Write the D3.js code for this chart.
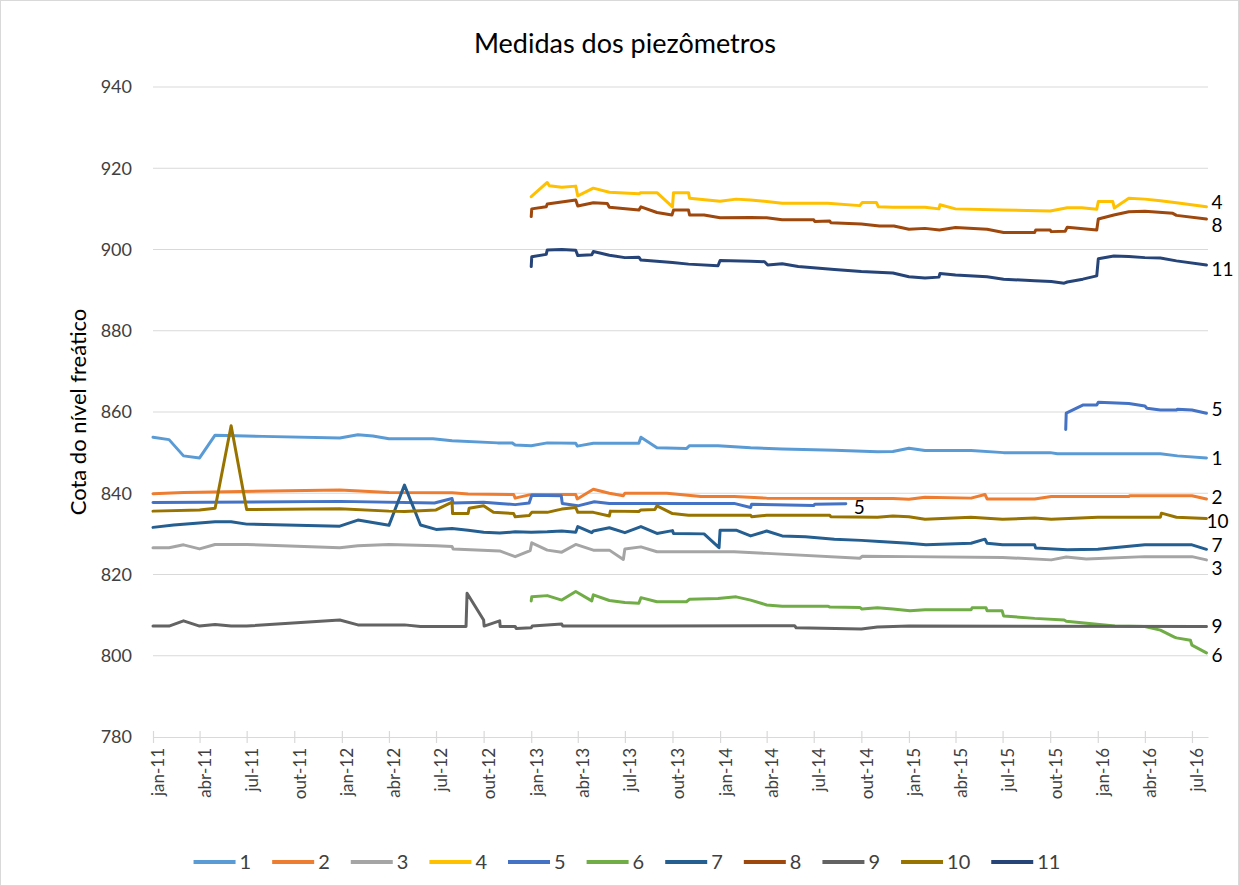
<!DOCTYPE html>
<html>
<head>
<meta charset="utf-8">
<script src="https://cdn.jsdelivr.net/npm/d3@7"></script>
<style>
  html, body { margin: 0; padding: 0; background: #fff; }
  svg { display: block; font-family: Lato, "Open Sans", sans-serif; }
</style>
</head>
<body>
<svg id="chart" width="1239" height="886"></svg>
<script>
// Piezometer water-table readings (cota do nível freático), date + value
const p1 = [["2011-01-01",853.8],["2011-02-01",853.2],["2011-03-01",849.2],["2011-04-01",848.7],["2011-05-01",854.3],["2011-08-01",854.0],["2011-12-28",853.6],["2012-02-01",854.4],["2012-03-01",854.1],["2012-04-01",853.4],["2012-06-25",853.4],["2012-08-01",852.9],["2012-10-28",852.4],["2012-11-25",852.4],["2012-12-01",851.9],["2013-01-01",851.7],["2013-02-01",852.4],["2013-03-28",852.3],["2013-03-31",851.6],["2013-05-01",852.3],["2013-07-28",852.3],["2013-08-01",853.8],["2013-09-01",851.2],["2013-10-28",851.0],["2013-11-03",851.7],["2013-12-28",851.7],["2014-03-01",851.2],["2014-05-01",850.9],["2014-08-10",850.6],["2014-11-01",850.2],["2014-12-01",850.3],["2015-01-01",851.1],["2015-02-01",850.5],["2015-05-01",850.5],["2015-07-03",850.0],["2015-10-01",850.0],["2015-10-15",849.7],["2016-05-01",849.7],["2016-06-03",849.2],["2016-07-29",848.7]];
const p2 = [["2011-01-01",839.9],["2011-03-01",840.2],["2011-12-28",840.8],["2012-04-01",840.2],["2012-08-01",840.1],["2012-09-01",839.8],["2012-11-28",839.7],["2012-12-01",838.8],["2012-12-28",839.6],["2013-01-03",839.7],["2013-03-28",839.7],["2013-03-31",838.6],["2013-05-01",841.0],["2013-06-01",840.0],["2013-06-28",839.4],["2013-07-01",840.0],["2013-09-20",840.0],["2013-11-25",839.2],["2014-01-28",839.2],["2014-04-01",838.8],["2014-12-01",838.7],["2015-01-01",838.5],["2015-02-01",839.0],["2015-05-01",838.8],["2015-05-28",839.7],["2015-06-01",838.6],["2015-09-01",838.6],["2015-10-03",839.2],["2016-03-01",839.2],["2016-03-03",839.4],["2016-07-01",839.4],["2016-07-29",838.6]];
const p3 = [["2011-01-01",826.6],["2011-02-01",826.6],["2011-03-01",827.3],["2011-04-01",826.3],["2011-05-01",827.4],["2011-07-01",827.4],["2011-12-28",826.6],["2012-02-01",827.1],["2012-04-01",827.4],["2012-07-01",827.1],["2012-08-01",826.9],["2012-08-03",826.3],["2012-11-01",825.8],["2012-12-01",824.4],["2012-12-30",825.9],["2013-01-02",827.8],["2013-02-01",826.0],["2013-03-01",825.5],["2013-03-28",827.4],["2013-05-01",826.0],["2013-06-01",826.0],["2013-06-28",823.7],["2013-07-01",826.3],["2013-08-01",826.8],["2013-09-01",825.6],["2014-01-28",825.6],["2014-04-01",825.2],["2014-09-28",824.0],["2014-10-03",824.5],["2015-01-01",824.4],["2015-07-01",824.2],["2015-10-03",823.6],["2015-11-01",824.3],["2015-12-10",823.8],["2016-04-01",824.4],["2016-07-01",824.4],["2016-07-29",823.6]];
const p4 = [["2013-01-01",913.0],["2013-02-01",916.5],["2013-02-05",915.7],["2013-03-01",915.3],["2013-03-28",915.6],["2013-04-01",913.2],["2013-05-01",915.1],["2013-06-01",914.1],["2013-07-28",913.7],["2013-08-01",914.0],["2013-09-01",914.0],["2013-10-01",910.5],["2013-10-03",914.0],["2013-11-01",914.0],["2013-11-03",912.6],["2014-01-01",911.9],["2014-02-01",912.4],["2014-03-01",912.2],["2014-04-01",911.8],["2014-05-01",911.4],["2014-07-28",911.4],["2014-09-28",910.8],["2014-10-03",911.6],["2014-10-30",911.6],["2014-11-03",910.5],["2014-12-01",910.4],["2015-02-01",910.4],["2015-02-28",910.0],["2015-03-02",911.0],["2015-04-01",910.0],["2015-07-01",909.7],["2015-10-01",909.5],["2015-11-03",910.3],["2015-12-01",910.3],["2015-12-30",909.9],["2016-01-02",911.8],["2016-01-30",911.8],["2016-02-02",910.2],["2016-03-01",912.6],["2016-04-01",912.4],["2016-05-01",912.0],["2016-06-01",911.5],["2016-07-29",910.5]];
const p5 = [["2011-01-01",837.7],["2011-12-28",838.0],["2012-06-28",837.6],["2012-08-01",838.7],["2012-08-03",837.6],["2012-10-01",837.8],["2012-11-01",837.5],["2012-12-01",837.2],["2012-12-28",837.6],["2013-01-02",839.5],["2013-02-28",839.4],["2013-03-02",837.5],["2013-04-01",836.9],["2013-05-03",837.9],["2013-06-01",837.5],["2014-01-28",837.5],["2014-03-01",836.5],["2014-03-03",837.3],["2014-07-01",837.0],["2014-07-03",837.3],["2014-09-01",837.4],["2015-01-01",null],["2015-10-31",855.7],["2015-11-01",859.7],["2015-12-03",861.7],["2015-12-30",861.7],["2016-01-02",862.4],["2016-03-01",862.1],["2016-04-01",861.5],["2016-04-05",860.9],["2016-05-01",860.5],["2016-06-01",860.5],["2016-06-03",860.7],["2016-07-01",860.5],["2016-07-29",859.7]];
const p6 = [["2013-01-01",813.5],["2013-01-02",814.5],["2013-02-01",814.8],["2013-03-01",813.7],["2013-03-28",815.8],["2013-04-28",813.5],["2013-05-01",815.0],["2013-06-01",813.6],["2013-07-01",813.1],["2013-07-28",812.9],["2013-08-01",814.3],["2013-09-01",813.3],["2013-10-28",813.3],["2013-11-03",813.9],["2013-12-28",814.1],["2014-02-01",814.5],["2014-03-01",813.7],["2014-04-01",812.5],["2014-05-01",812.2],["2014-07-28",812.2],["2014-08-01",812.0],["2014-09-28",811.9],["2014-10-02",811.5],["2014-11-01",811.8],["2014-12-01",811.5],["2015-01-03",811.1],["2015-02-01",811.3],["2015-05-01",811.3],["2015-05-03",811.8],["2015-05-30",811.8],["2015-06-01",811.1],["2015-06-30",811.1],["2015-07-03",809.8],["2015-09-01",809.2],["2015-10-28",808.8],["2015-11-01",808.5],["2016-02-03",807.3],["2016-04-01",807.2],["2016-05-01",806.3],["2016-05-28",804.6],["2016-06-01",804.4],["2016-06-28",803.8],["2016-07-01",802.6],["2016-07-29",800.7]];
const p7 = [["2011-01-01",831.6],["2011-02-10",832.2],["2011-05-01",833.0],["2011-06-01",833.0],["2011-07-01",832.4],["2011-12-28",831.9],["2012-02-01",833.4],["2012-04-01",832.1],["2012-05-01",842.0],["2012-06-01",832.2],["2012-07-01",831.1],["2012-08-01",831.3],["2012-09-01",830.9],["2012-10-01",830.4],["2012-11-01",830.2],["2012-12-01",830.5],["2013-01-01",830.4],["2013-02-01",830.5],["2013-03-01",830.7],["2013-03-28",830.4],["2013-04-01",831.8],["2013-04-28",830.3],["2013-05-01",830.7],["2013-06-01",831.5],["2013-07-01",830.3],["2013-08-01",831.8],["2013-09-01",830.1],["2013-10-01",830.8],["2013-10-03",830.1],["2013-12-01",830.0],["2013-12-30",826.6],["2014-01-01",830.9],["2014-02-01",830.9],["2014-03-01",829.5],["2014-04-01",830.7],["2014-05-01",829.5],["2014-06-15",829.3],["2014-08-10",828.7],["2014-10-01",828.4],["2014-11-05",828.1],["2015-01-01",827.7],["2015-02-03",827.3],["2015-05-01",827.7],["2015-05-28",828.7],["2015-06-01",827.7],["2015-07-01",827.3],["2015-09-01",827.3],["2015-09-03",826.5],["2015-11-03",826.1],["2016-01-01",826.2],["2016-04-01",827.3],["2016-07-01",827.3],["2016-07-29",826.2]];
const p8 = [["2013-01-01",908.1],["2013-01-02",910.0],["2013-01-30",910.5],["2013-02-01",911.2],["2013-03-28",912.2],["2013-04-01",910.7],["2013-05-01",911.5],["2013-05-28",911.3],["2013-06-01",910.4],["2013-07-28",909.7],["2013-08-01",910.5],["2013-09-01",909.1],["2013-09-30",908.5],["2013-10-03",909.7],["2013-11-01",909.7],["2013-11-03",908.5],["2013-12-01",908.5],["2014-01-01",907.8],["2014-03-01",907.9],["2014-04-01",907.8],["2014-05-01",907.3],["2014-07-01",907.3],["2014-07-03",906.9],["2014-08-01",907.0],["2014-08-03",906.6],["2014-10-01",906.3],["2014-11-05",905.8],["2014-12-03",905.8],["2015-01-01",905.0],["2015-02-01",905.2],["2015-03-01",904.8],["2015-04-01",905.4],["2015-06-01",905.0],["2015-07-03",904.2],["2015-09-01",904.2],["2015-09-03",904.8],["2015-10-01",904.8],["2015-10-03",904.4],["2015-10-30",904.5],["2015-11-03",905.5],["2015-12-30",904.8],["2016-01-02",907.5],["2016-02-01",908.5],["2016-03-01",909.3],["2016-04-01",909.4],["2016-05-25",908.9],["2016-06-01",908.4],["2016-07-29",907.5]];
const p9 = [["2011-01-01",807.3],["2011-02-01",807.3],["2011-03-01",808.6],["2011-04-01",807.3],["2011-05-01",807.7],["2011-06-01",807.3],["2011-07-01",807.3],["2011-12-28",808.8],["2012-02-01",807.6],["2012-05-01",807.6],["2012-06-01",807.2],["2012-08-28",807.2],["2012-08-30",815.4],["2012-10-01",808.8],["2012-10-02",807.3],["2012-11-01",808.6],["2012-11-02",807.2],["2012-12-01",807.2],["2012-12-03",806.7],["2013-01-01",806.9],["2013-01-03",807.3],["2013-03-01",807.8],["2013-03-03",807.3],["2013-09-01",807.3],["2014-05-01",807.4],["2014-05-25",807.4],["2014-05-28",806.9],["2014-10-01",806.6],["2014-11-01",807.1],["2015-01-01",807.3],["2016-07-29",807.2]];
const p10 = [["2011-01-01",835.6],["2011-04-01",835.9],["2011-05-01",836.3],["2011-06-01",856.6],["2011-07-01",836.0],["2011-12-28",836.2],["2012-04-01",835.6],["2012-05-01",835.5],["2012-07-01",835.9],["2012-08-01",837.8],["2012-08-02",835.0],["2012-09-01",835.0],["2012-09-03",836.3],["2012-10-01",836.9],["2012-10-20",835.3],["2012-11-28",835.0],["2012-12-01",834.2],["2012-12-28",834.5],["2013-01-02",835.3],["2013-02-01",835.3],["2013-03-01",836.1],["2013-03-28",836.5],["2013-04-01",835.3],["2013-05-01",835.3],["2013-06-01",834.4],["2013-06-03",835.6],["2013-07-28",835.5],["2013-08-01",835.9],["2013-08-28",836.0],["2013-09-01",836.9],["2013-10-01",835.0],["2013-11-01",834.6],["2014-03-01",834.6],["2014-03-03",834.2],["2014-04-01",834.6],["2014-08-01",834.6],["2014-08-03",834.2],["2014-11-01",834.1],["2014-12-01",834.4],["2015-01-01",834.2],["2015-02-01",833.6],["2015-05-01",834.1],["2015-07-01",833.6],["2015-09-01",833.9],["2015-10-03",833.6],["2016-01-01",834.1],["2016-05-01",834.1],["2016-05-03",835.1],["2016-06-01",834.1],["2016-07-29",833.8]];
const p11 = [["2013-01-01",895.8],["2013-01-02",898.2],["2013-01-30",898.8],["2013-02-01",899.9],["2013-03-01",900.0],["2013-03-28",899.8],["2013-04-01",898.5],["2013-04-28",898.7],["2013-05-01",899.5],["2013-06-01",898.6],["2013-07-01",898.0],["2013-07-28",898.1],["2013-08-01",897.4],["2013-10-01",896.8],["2013-11-01",896.4],["2013-12-28",896.0],["2014-01-01",897.3],["2014-03-01",897.1],["2014-03-28",897.0],["2014-04-03",896.2],["2014-05-01",896.5],["2014-06-01",895.8],["2014-08-10",895.1],["2014-10-01",894.6],["2014-12-01",894.2],["2015-01-01",893.3],["2015-02-01",893.0],["2015-02-28",893.2],["2015-03-02",894.1],["2015-04-01",893.7],["2015-06-01",893.3],["2015-07-03",892.7],["2015-09-01",892.3],["2015-10-03",892.1],["2015-10-28",891.7],["2015-11-03",892.0],["2015-12-03",892.7],["2015-12-30",893.5],["2016-01-02",897.7],["2016-02-01",898.4],["2016-03-01",898.3],["2016-04-01",898.0],["2016-05-01",897.9],["2016-06-01",897.2],["2016-07-29",896.2]];

const seriesNames = ["1","2","3","4","5","6","7","8","9","10","11"];
const seriesData = [p1, p2, p3, p4, p5, p6, p7, p8, p9, p10, p11];
const colors = ["#5B9BD5","#ED7D31","#A5A5A5","#FFC000","#4472C4","#70AD47","#255E91","#9E480E","#636363","#997300","#264478"];
const yTicks = [780, 800, 820, 840, 860, 880, 900, 920, 940];
const monthNames = ["jan","fev","mar","abr","mai","jun","jul","ago","set","out","nov","dez"];
const title = "Medidas dos piezômetros";
const yTitle = "Cota do nível freático";

// vertical nudges (px) for end-of-line labels so they do not collide
const labelNudge = {"1":0,"2":-2,"3":8,"4":-4,"5":-4,"6":2,"7":-4,"8":6,"9":0,"10":3,"11":4};
const labelDx = {"10":0};

const parse = d3.utcParse("%Y-%m-%d");
const svg = d3.select("#chart");
const W = 1239, H = 886;
const plot = {left: 153, right: 1208, top: 87, bottom: 737};

// chart area frame
svg.append("rect").attr("x", 0.5).attr("y", 0.5).attr("width", W - 1).attr("height", H - 1)
  .attr("fill", "#fff").attr("stroke", "#d9d9d9");

const x = d3.scaleUtc()
  .domain([parse("2011-01-01"), parse("2016-08-01")])
  .range([plot.left, plot.right]);
const y = d3.scaleLinear().domain([780, 940]).range([plot.bottom, plot.top]);

// horizontal gridlines
svg.append("g").selectAll("line")
  .data(yTicks.filter(v => v !== 780))
  .join("line")
  .attr("x1", plot.left).attr("x2", plot.right)
  .attr("y1", d => y(d)).attr("y2", d => y(d))
  .attr("stroke", "#d9d9d9").attr("stroke-width", 1);

// y axis labels
const yAxis = svg.append("g").attr("transform", `translate(${plot.left},0)`)
  .call(d3.axisLeft(y).tickValues(yTicks).tickSize(0).tickPadding(21));
yAxis.select(".domain").remove();
yAxis.selectAll("text").attr("font-size", 18).attr("fill", "#404040")
  .attr("font-family", "Lato, sans-serif");

// x axis with ticks that cross the axis line
const fmt = d => `${monthNames[d.getUTCMonth()]}-${String(d.getUTCFullYear()).slice(2)}`;
const xAxis = svg.append("g").attr("transform", `translate(0,${plot.bottom})`)
  .call(d3.axisBottom(x).ticks(d3.utcMonth.every(3)).tickFormat(fmt).tickSize(6).tickSizeOuter(0));
xAxis.select(".domain").attr("stroke", "#d9d9d9").attr("stroke-width", 1.2);
xAxis.selectAll(".tick line").attr("y1", -6).attr("y2", 6).attr("stroke", "#d9d9d9").attr("stroke-width", 1.2);
xAxis.selectAll(".tick text")
  .attr("font-size", 17).attr("fill", "#404040").attr("font-family", "Lato, sans-serif")
  .attr("text-anchor", "end")
  .attr("transform", "rotate(-90)")
  .attr("x", -11).attr("y", 5).attr("dy", "0.35em");

// series lines
const line = d3.line()
  .defined(d => d[1] != null)
  .x(d => x(parse(d[0])))
  .y(d => y(d[1]));

const g = svg.append("g");
seriesData.forEach((data, i) => {
  g.append("path")
    .datum(data)
    .attr("d", line)
    .attr("fill", "none")
    .attr("stroke", colors[i])
    .attr("stroke-width", 3)
    .attr("stroke-linejoin", "round")
    .attr("stroke-linecap", "round");
});

// labels at line ends
const labelG = svg.append("g").attr("font-size", 19).attr("fill", "#000");
seriesData.forEach((data, i) => {
  const name = seriesNames[i];
  const valid = data.filter(d => d[1] != null);
  const last = valid[valid.length - 1];
  labelG.append("text")
    .attr("x", x(parse(last[0])) + (labelDx[name] != null ? labelDx[name] : 5))
    .attr("y", y(last[1]) + labelNudge[name])
    .attr("dy", "0.35em")
    .text(name);
});
// series 5 also labelled where its first segment ends
{
  const gapIdx = p5.findIndex(d => d[1] == null);
  const end = p5[gapIdx - 1];
  labelG.append("text")
    .attr("x", x(parse(end[0])) + 8)
    .attr("y", y(end[1]) + 4)
    .attr("dy", "0.35em")
    .text("5");
}

// title
svg.append("text")
  .attr("x", 625).attr("y", 53)
  .attr("text-anchor", "middle")
  .attr("font-size", 27).attr("fill", "#000")
  .text(title);

// y axis title
svg.append("text")
  .attr("transform", `translate(86,${(plot.top + plot.bottom) / 2}) rotate(-90)`)
  .attr("text-anchor", "middle")
  .attr("font-size", 22).attr("fill", "#000")
  .text(yTitle);

// legend
const legend = svg.append("g").attr("font-size", 20).attr("fill", "#404040");
let cx = 0;
seriesNames.forEach((name, i) => {
  const it = legend.append("g");
  it.append("line").attr("x1", 0).attr("x2", 42).attr("y1", 0).attr("y2", 0)
    .attr("stroke", colors[i]).attr("stroke-width", 4);
  const t = it.append("text").attr("x", 46).attr("dy", "0.35em").text(name);
  const w = 46 + t.node().getComputedTextLength();
  it.attr("transform", `translate(${cx},862)`);
  cx += w + (i < seriesNames.length - 1 ? 21 : 0);
});
legend.attr("transform", `translate(${627 - cx / 2},0)`);
</script>
</body>
</html>
